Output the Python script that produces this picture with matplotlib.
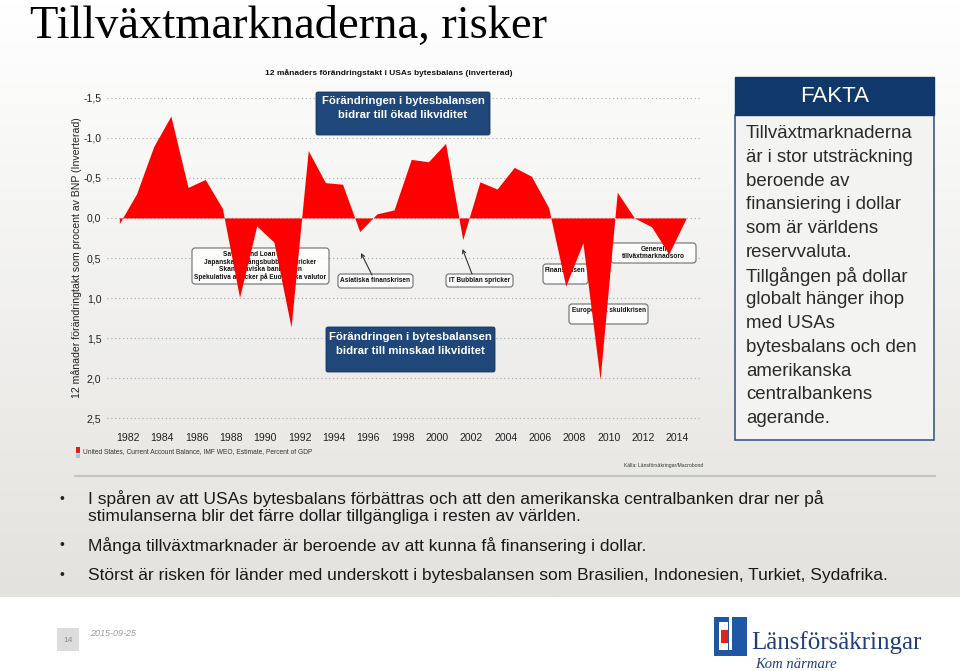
import numpy as np
import matplotlib
matplotlib.use('Agg')
import matplotlib.pyplot as plt
from matplotlib.patches import FancyBboxPatch, Rectangle
from matplotlib.colors import LinearSegmentedColormap

# ---------------- data ----------------
years = list(range(1981, 2015))
change = [0.07, -0.30, -0.89, -1.27, -0.38, -0.48, -0.12, 0.99, 0.10, 0.30,
          1.36, -0.84, -0.44, -0.42, 0.17, -0.05, -0.10, -0.73, -0.70, -0.93,
          0.27, -0.45, -0.36, -0.63, -0.52, -0.13, 0.85, 0.31, 2.01, -0.32,
          0.00, 0.11, 0.45, 0.01]
ytick_values = [-1.5, -1.0, -0.5, 0.0, 0.5, 1.0, 1.5, 2.0, 2.5]
ytick_labels = ['-1,5', '-1,0', '-0,5', '0,0', '0,5', '1,0', '1,5', '2,0', '2,5']
xtick_years = list(range(1982, 2015, 2))
xtick_labels = [str(y) for y in xtick_years]

title = 'Tillväxtmarknaderna, risker'
chart_title = '12 månaders förändringstakt i USAs bytesbalans (inverterad)'
ylabel = '12 månader förändringtakt som procent av BNP (Inverterad)'
legend_label = 'United States, Current Account Balance, IMF WEO, Estimate, Percent of GDP'
source = 'Källa: Länsförsäkringar/Macrobond'
box_up = ['Förändringen i bytesbalansen', 'bidrar till ökad likviditet']
box_down = ['Förändringen i bytesbalansen', 'bidrar till minskad likviditet']
crisis_1990 = ['Saving and Loan Krisen', 'Japanska tillgångsbubblan spricker',
               'Skandinaviska bankkrisen', 'Spekulativa attacker på Euopeiska valutor']
fakta_title = 'FAKTA'
fakta_lines = ['Tillväxtmarknaderna', 'är i stor utsträckning', 'beroende av',
               'finansiering i dollar', 'som är världens', 'reservvaluta.',
               'Tillgången på dollar', 'globalt hänger ihop', 'med USAs',
               'bytesbalans och den', 'amerikanska', 'centralbankens', 'agerande.']
bullets = [['I spåren av att USAs bytesbalans förbättras och att den amerikanska centralbanken drar ner på',
            'stimulanserna blir det färre dollar tillgängliga i resten av världen.'],
           ['Många tillväxtmarknader är beroende av att kunna få finansering i dollar.'],
           ['Störst är risken för länder med underskott i bytesbalansen som Brasilien, Indonesien, Turkiet, Sydafrika.']]

W, H = 960, 671
plt.rcParams['font.family'] = ['Liberation Sans', 'DejaVu Sans']

fig = plt.figure(figsize=(W / 100, H / 100), dpi=100)
bg = fig.add_axes([0, 0, 1, 1], zorder=0)
grad = np.linspace(0, 1, 300)[:, None]
cmap = LinearSegmentedColormap.from_list('g', ['#ffffff', '#e3e2de'])
bg.imshow(grad, extent=(0, W, 597, 0), cmap=cmap, aspect='auto', zorder=0)
bg.set_xlim(0, W)
bg.set_ylim(H, 0)
bg.axis('off')
P = bg.transData

# title
bg.text(30, 38, title, family=['Liberation Serif'], fontsize=33.5, color='#000000',
        ha='left', va='baseline')

# ---------------- chart ----------------
top_px, bot_px = 96.0, 420.1
ax = fig.add_axes([107 / W, 1 - bot_px / H, (700 - 107) / W, (bot_px - top_px) / H], zorder=1)
ax.patch.set_alpha(0)
x = np.array(years) + 0.5
ax.fill_between(x, 0, change, color='#ff0000', linewidth=0, zorder=3)
ax.set_xlim(1980.78, 2015.32)
ax.set_ylim(2.52, -1.52)
ax.set_yticks(ytick_values, ytick_labels)
ax.set_xticks(xtick_years, xtick_labels)
for s in ax.spines.values():
    s.set_visible(False)
ax.tick_params(length=0, labelsize=7.6, colors='#222222')
ax.tick_params(axis='y', pad=4)
ax.tick_params(axis='x', pad=9)
ax.yaxis.grid(True, linestyle=(0, (1, 2.5)), color='#a8a8a8', linewidth=0.8)
ax.set_axisbelow(True)

bg.text(389, 73, chart_title, fontsize=6, weight='bold', ha='center', va='center', color='#111111')
bg.text(77, 258, ylabel, fontsize=7.6, rotation=90, ha='center', va='center', color='#222222')


def pbox(x0, y0, x1, y1, fc, ec, lw, z, r=3, alpha=1.0):
    p = FancyBboxPatch((x0, y0), x1 - x0, y1 - y0,
                       boxstyle=f'round,pad=0,rounding_size={r}',
                       fc=fc, ec=ec, lw=lw, alpha=alpha, transform=P, zorder=z,
                       clip_on=False)
    ax.add_patch(p)


def ptext(xp, yp, s, z, **kw):
    ax.text(xp, yp, s, transform=P, zorder=z, clip_on=False, **kw)


# blue boxes
blue = '#1f477a'
pbox(316, 92, 490, 135, blue, '#16355c', 0.6, 5, r=2)
for i, line in enumerate(box_up):
    ptext(403, 101 + i * 13.5, line, 6, color='white', weight='bold', fontsize=8.2,
          ha='center', va='center')
pbox(326, 327, 495, 372, blue, '#16355c', 0.6, 5, r=2)
for i, line in enumerate(box_down):
    ptext(410.5, 337.5 + i * 14, line, 6, color='white', weight='bold', fontsize=8.2,
          ha='center', va='center')

# white annotation boxes (below the red fill)
wfc = '#ffffff'
wec = '#555555'
fs_small = 4.7
pbox(192, 248, 329, 284, wfc, wec, 0.8, 2, alpha=0.85)
for i, line in enumerate(crisis_1990):
    ptext(260.5, 254 + i * 7.8, line, 2.5, fontsize=fs_small, weight='bold', ha='center',
          va='center', color='#111111')
pbox(338, 274, 413, 288, wfc, wec, 0.8, 2, alpha=0.85)
ptext(375.5, 281, 'Asiatiska finanskrisen', 2.5, fontsize=fs_small, weight='bold', ha='center',
      va='center', color='#111111')
pbox(446, 274, 513, 287, wfc, wec, 0.8, 2, alpha=0.85)
ptext(479.5, 280.5, 'IT Bubblan spricker', 2.5, fontsize=fs_small, weight='bold', ha='center',
      va='center', color='#111111')
pbox(543, 264, 588, 284, wfc, wec, 0.8, 2, alpha=0.85)
ptext(544.5, 270, 'Finanskrisen', 2.5, fontsize=fs_small, weight='bold', ha='left',
      va='center', color='#111111')
pbox(569, 304, 648, 324, wfc, wec, 0.8, 2, alpha=0.85)
ptext(608.5, 310.5, 'Europeiska skuldkrisen', 2.5, fontsize=fs_small, weight='bold', ha='center',
      va='center', color='#111111')
pbox(611, 243, 696, 263, wfc, wec, 0.8, 2, alpha=0.85)
ptext(653.5, 249.5, 'Generell', 2.5, fontsize=fs_small, weight='bold', ha='center',
      va='center', color='#111111')
ptext(653.5, 257, 'tillväxtmarknadsoro', 2.5, fontsize=fs_small, weight='bold', ha='center',
      va='center', color='#111111')

# arrows
for (tx, ty), (hx, hy) in [((372, 275), (361, 253)), ((472, 274), (462.5, 249))]:
    ax.annotate('', xy=(hx, hy), xytext=(tx, ty), xycoords=P, textcoords=P,
                arrowprops=dict(arrowstyle='->', color='#333333', lw=0.8,
                                shrinkA=0, shrinkB=0, mutation_scale=6),
                zorder=4, annotation_clip=False)

# legend + source
bg.add_patch(Rectangle((76, 447), 4, 6, fc='#e0201c', ec='none', zorder=2))
bg.add_patch(Rectangle((76, 453.5), 4, 4, fc='#a9c4e0', ec='none', zorder=2))
bg.text(83, 452, legend_label, fontsize=4.75, ha='left', va='center', color='#333333', zorder=3)
bg.text(703, 466, source, fontsize=3.6, ha='right', va='center', color='#333333', zorder=3)

# separator
bg.plot([75, 935], [476, 476], color='#c4c4c2', lw=1.5, zorder=2)

# ---------------- FAKTA box ----------------
bg.add_patch(Rectangle((735, 115), 199, 325, fc='#f3f3f2', ec='#3b5b86', lw=1.2, zorder=2))
bg.add_patch(Rectangle((735, 77), 199, 38, fc='#10386a', ec='#10386a', lw=1.0, zorder=3))
bg.text(834.5, 96.5, fakta_title, fontsize=16, color='white', ha='center', va='center', zorder=4)
for i, line in enumerate(fakta_lines):
    bg.text(746, 131.7 + i * 23.75, line, fontsize=13.4, color='#2a2a2a', ha='left',
            va='center_baseline', zorder=4)

# ---------------- bullets ----------------
by = [[497, 515], [544], [574]]
for lines, ys in zip(bullets, by):
    bg.text(62, ys[0], '•', fontsize=10, color='#222222', ha='center', va='center_baseline', zorder=3)
    for line, yy in zip(lines, ys):
        bg.text(88, yy, line, fontsize=12.5, color='#1a1a1a', ha='left',
                va='center_baseline', zorder=3)

# ---------------- footer ----------------
bg.add_patch(Rectangle((57, 628), 22, 23, fc='#dcdcdc', ec='none', zorder=2))
bg.text(68, 640, '14', fontsize=6, color='#8a8a8a', ha='center', va='center', zorder=3)
bg.text(90, 633, '2015-09-25', fontsize=6.5, style='italic', color='#9a9a9a',
        ha='left', va='center', zorder=3)

logo_blue = '#1f56a5'
bg.add_patch(Rectangle((714, 617), 33, 39, fc=logo_blue, ec='none', zorder=2))
bg.add_patch(Rectangle((719, 622), 9, 28, fc='white', ec='none', zorder=3))
bg.add_patch(Rectangle((729, 617), 2.5, 33, fc='white', ec='none', zorder=3))
bg.add_patch(Rectangle((721, 630), 7, 13, fc='#e2231a', ec='none', zorder=4))
bg.text(751, 649, 'Länsförsäkringar', family=['Liberation Serif'], fontsize=18,
        color='#1d3f7e', ha='left', va='baseline', zorder=3)
bg.text(755, 668, 'Kom närmare', family=['Liberation Serif'], fontsize=10.5, style='italic',
        color='#1d3f7e', ha='left', va='baseline', zorder=3)

fig.savefig('out.png', dpi=100)
